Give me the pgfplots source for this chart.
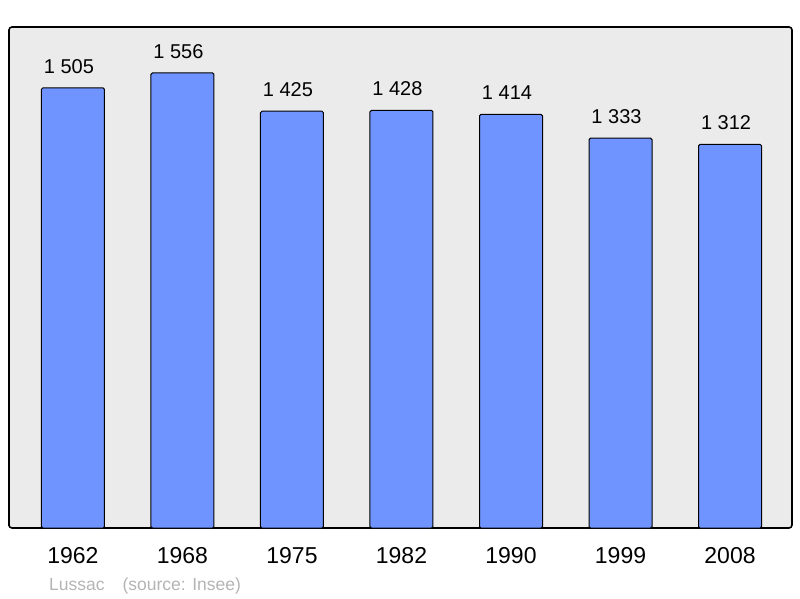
\documentclass[border=0pt]{standalone}
\usepackage{fontspec}
\setmainfont{Liberation Sans}
\usepackage{pgfplots}
\pgfplotsset{compat=1.18}
\definecolor{barblue}{HTML}{7094FF}
\definecolor{bggray}{HTML}{EBEBEB}
\definecolor{srcgray}{HTML}{B4B4B4}
\begin{document}
\begin{tikzpicture}[x=1pt,y=1pt]
\useasboundingbox (0,0) rectangle (800,598);
\begin{axis}[
    at={(9pt,70pt)}, anchor=south west,
    width=783pt, height=501pt, scale only axis,
    xmin=-0.584, xmax=6.566,
    ymin=0, ymax=1713,
    axis background/.style={fill=bggray},
    axis line style={line width=1.6pt, rounded corners=3pt},
    ybar, bar width=63pt,
    xtick=data,
    xticklabels={1962,1968,1975,1982,1990,1999,2008},
    x tick label style={font=\fontsize{23}{26}\selectfont, yshift=-16pt},
    ytick=\empty,
    major tick length=0pt,
    nodes near coords,
    /pgf/number format/assume math mode=true,
    /pgf/number format/1000 sep={\ },
    every node near coord/.append style={font=\fontsize{20}{23}\selectfont, black, inner sep=0pt, anchor=south, yshift=14pt, xshift=-4pt},
]
\addplot[fill=barblue, draw=black, line width=1pt, rounded corners=1.5pt]
  coordinates {(0,1505) (1,1556) (2,1425) (3,1428) (4,1414) (5,1333) (6,1312)};
\end{axis}
\node[anchor=base west, text=srcgray, font=\fontsize{17.5}{20}\selectfont, inner sep=0pt] at (49,8) {Lussac\hspace{18pt}(source: Insee)};
\end{tikzpicture}
\end{document}
